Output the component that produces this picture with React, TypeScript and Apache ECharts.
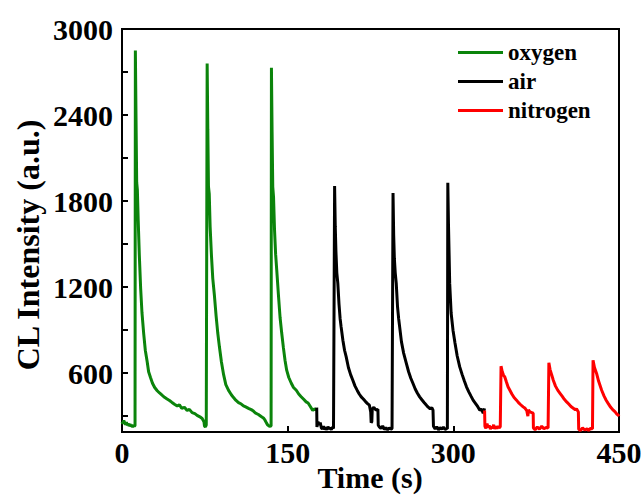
import React, { useEffect, useRef } from "react";
import * as echarts from "echarts";

const xTicks = [0, 150, 300, 450];
const yLabelValues = [600, 1200, 1800, 2400, 3000];
const yTickValues = [300, 600, 900, 1200, 1500, 1800, 2100, 2400, 2700, 3000];
const seriesNames = ["oxygen", "air", "nitrogen"];
const seriesColors = ["#0b840b", "#000000", "#ff0000"];

const oxygen: number[][] = [
  [0, 262], [0.8, 248], [1.6, 270], [2.4, 255], [3.2, 242], [4, 258], [4.8, 236], [5.6, 250], [6.4, 231], [7.2, 246],
  [8, 228], [8.8, 240], [9.6, 224], [10.4, 238], [11.2, 230], [11.8, 235],
  [12.1, 2850], [12.7, 2380], [13.3, 1930], [13.9, 1880], [14.7, 1660], [15.7, 1420], [16.9, 1190], [18.1, 1020],
  [19.6, 880], [21.1, 760], [22.8, 680], [24.1, 610], [25.8, 570], [27.6, 530], [29.6, 500], [31.9, 478], [34, 462],
  [36.5, 445], [38.5, 432], [40.8, 420], [43, 410], [45, 398], [47.5, 384], [50, 372], [52, 380], [54, 355],
  [56.5, 362], [59, 340], [61, 348], [63.5, 325], [66, 318], [68, 306], [70.5, 296], [72.6, 284], [74.2, 262],
  [74.7, 232], [75.5, 225], [76.3, 240], [76.8, 238],
  [77.1, 2760], [77.7, 2300], [78.3, 1900], [79, 1850], [79.8, 1620], [81, 1420], [82.2, 1260], [83.7, 1140],
  [85.2, 1000], [86.7, 880], [88.2, 784], [90, 680], [92, 590], [94, 520], [96.5, 480], [99, 450], [101, 430],
  [103, 412], [105.5, 395], [108, 385], [110, 372], [112, 365], [114.5, 355], [117, 346], [119, 336], [121, 321],
  [123.5, 312], [126, 298], [128, 288], [129.5, 272], [131, 250], [132, 238], [133.5, 230], [135, 232],
  [135.3, 2730], [135.9, 2280], [136.5, 1900], [137.2, 1830], [138.1, 1600], [139.1, 1430], [140.1, 1320],
  [141.6, 1150], [143.1, 990], [144.6, 880], [146.1, 780], [147.6, 690], [149.1, 621], [151, 570], [153.3, 530],
  [155.3, 500], [157.8, 481], [160, 455], [162, 438], [164.5, 418], [166.7, 400], [168.5, 392], [170.5, 368],
  [172.7, 340], [174.5, 352], [176.3, 345],
];

const air: number[][] = [
  [176.3, 360], [176.5, 225], [177.5, 262], [178.5, 240], [179.5, 255], [180.5, 218], [181.5, 212], [182.5, 230],
  [183.5, 208], [184.5, 222], [185.5, 205], [186.5, 226], [187.5, 212], [188.5, 218], [189.5, 206], [190.5, 224],
  [191.5, 215], [192, 218],
  [192.5, 1905], [193.1, 1620], [193.7, 1450], [194.5, 1300], [195.4, 1228], [196.5, 1080], [197.5, 980],
  [198.4, 923], [200, 830], [201.5, 760], [203, 714], [205, 640], [207, 590], [209, 551], [211, 510], [213, 480],
  [214.8, 455], [216.6, 435], [218.5, 420], [220.5, 402], [222.3, 388], [224, 377], [225.2, 330], [225.6, 255],
  [226.2, 262], [226.6, 350], [228, 362], [230, 342], [231.7, 348], [232, 237], [233, 226], [234.5, 214],
  [236, 232], [237.5, 208], [239, 220], [240.5, 206], [242, 218], [243.5, 210], [244.5, 215], [245, 212],
  [245.4, 1856], [246, 1560], [246.6, 1400], [247.4, 1300], [248.3, 1228], [249.5, 1060], [250.5, 980],
  [251.4, 923], [253, 820], [255, 740], [257.4, 670], [259.5, 610], [261.5, 565], [263.4, 530], [265.5, 490],
  [267.5, 460], [269.5, 435], [271.5, 415], [273.5, 396], [275.5, 378], [277, 365], [279, 352], [280.5, 360],
  [281.6, 342], [282, 230], [283.5, 212], [285, 226], [286.5, 205], [288, 220], [289.5, 210], [291, 224],
  [292.5, 208], [294, 214], [294.6, 212],
  [295, 1928], [295.6, 1640], [296.2, 1420], [296.7, 1228], [298, 1020], [299.7, 900], [301.5, 810],
  [303.5, 720], [305.8, 644], [308, 590], [310, 545], [311.9, 505], [314, 470], [316, 440], [317.9, 412],
  [320, 390], [322, 368], [324, 342], [325.5, 350], [327, 321], [328.3, 355],
];

const nitrogen: number[][] = [
  [328.3, 340], [328.6, 230], [329.5, 215], [330.5, 248], [331.5, 222], [332.5, 236], [333.5, 210], [334.5, 228],
  [335.5, 216], [336.5, 240], [337.5, 212], [338.5, 230], [339.5, 214], [340.5, 232], [341.5, 220], [342.5, 226],
  [342.7, 228],
  [343.2, 649], [344.3, 610], [345.5, 585], [346.6, 574], [348, 540], [349.5, 505], [351.2, 481], [353, 455],
  [355, 430], [357.2, 412], [359, 395], [361, 380], [363.2, 365], [365, 355], [366.5, 338], [367.5, 300],
  [368, 345], [369.3, 330], [371, 325], [372.3, 321], [372.5, 218], [374, 206], [376, 225], [378, 210],
  [380, 230], [382, 212], [384, 222], [385.8, 218], [386, 220],
  [386.5, 672], [387.6, 625], [389, 590], [390.5, 551], [392.5, 510], [394.5, 482], [396.6, 460], [398.5, 440],
  [400.5, 418], [402.6, 400], [404.5, 385], [406.5, 368], [408.6, 356], [410.5, 345], [411.5, 352],
  [413.2, 330], [413.5, 210], [415, 200], [417, 218], [419, 204], [421, 212], [422.5, 200], [424, 215],
  [426, 212],
  [426.5, 690], [427.8, 640], [429.7, 598], [431.5, 545], [434.3, 481], [436.5, 440], [438.5, 410],
  [440.3, 388], [442.5, 362], [444.8, 342], [446.5, 330], [448, 315], [449.4, 307], [450, 300],
];

const FONT = "'Liberation Serif', 'Times New Roman', serif";
const Y_TITLE = "CL Intensity (a.u.)";
const X_TITLE = "Time (s)";

export default function App() {
  const ref = useRef<HTMLDivElement>(null);
  useEffect(() => {
    if (!ref.current) return;
    const chart = echarts.init(ref.current, undefined, { renderer: "svg" });
    const data = [oxygen, air, nitrogen];
    chart.setOption({
      animation: false,
      backgroundColor: "#ffffff",
      textStyle: { fontFamily: FONT },
      grid: {
        left: 122,
        right: 24,
        top: 29,
        bottom: 64,
        containLabel: false,
        outerBoundsMode: "none",
        show: true,
        borderColor: "#000",
        borderWidth: 2,
        backgroundColor: "transparent",
      },
      graphic: [
        {
          type: "text",
          x: 28,
          y: 245,
          rotation: Math.PI / 2,
          style: {
            text: Y_TITLE,
            fontFamily: FONT,
            fontWeight: "bold",
            fontSize: 32,
            fill: "#000",
            align: "center",
            verticalAlign: "middle",
          },
        },
        {
          type: "text",
          x: 370,
          y: 477,
          style: {
            text: X_TITLE,
            fontFamily: FONT,
            fontWeight: "bold",
            fontSize: 30,
            fill: "#000",
            align: "center",
            verticalAlign: "middle",
          },
        },
      ],
      legend: {
        data: seriesNames,
        orient: "vertical",
        left: 458,
        top: 41,
        padding: 0,
        itemGap: 6,
        itemWidth: 45,
        itemHeight: 3,
        icon: "rect",
        textStyle: {
          fontFamily: FONT,
          fontWeight: "bold",
          fontSize: 23,
          lineHeight: 23,
          color: "#000",
        },
      },
      xAxis: {
        type: "value",
        min: 0,
        max: 450,
        interval: 150,
        axisLine: { show: true, lineStyle: { color: "#000", width: 2 } },
        axisTick: { show: true, inside: true, length: 6, lineStyle: { color: "#000", width: 2 } },
        axisLabel: {
          customValues: xTicks,
          margin: 5,
          formatter: (v: number) => String(v),
          fontFamily: FONT,
          fontWeight: "bold",
          fontSize: 30,
          color: "#000",
        },
        splitLine: { show: false },
      },
      yAxis: {
        type: "value",
        min: 190,
        max: 3000,
        axisLine: { show: true, lineStyle: { color: "#000", width: 2 } },
        axisTick: {
          show: true,
          inside: true,
          length: 6,
          customValues: yTickValues,
          lineStyle: { color: "#000", width: 2 },
        },
        axisLabel: {
          customValues: yLabelValues,
          margin: 9,
          formatter: (v: number) => String(v),
          fontFamily: FONT,
          fontWeight: "bold",
          fontSize: 30,
          color: "#000",
        },
        splitLine: { show: false },
      },
      series: seriesNames.map((name, i) => ({
        name,
        type: "line",
        data: data[i],
        symbol: "none",
        showSymbol: false,
        color: seriesColors[i],
        lineStyle: { color: seriesColors[i], width: 3 },
      })),
    });
    return () => chart.dispose();
  }, []);
  return <div ref={ref} style={{ width: 643, height: 496, position: "absolute", left: 0, top: 0 }} />;
}
